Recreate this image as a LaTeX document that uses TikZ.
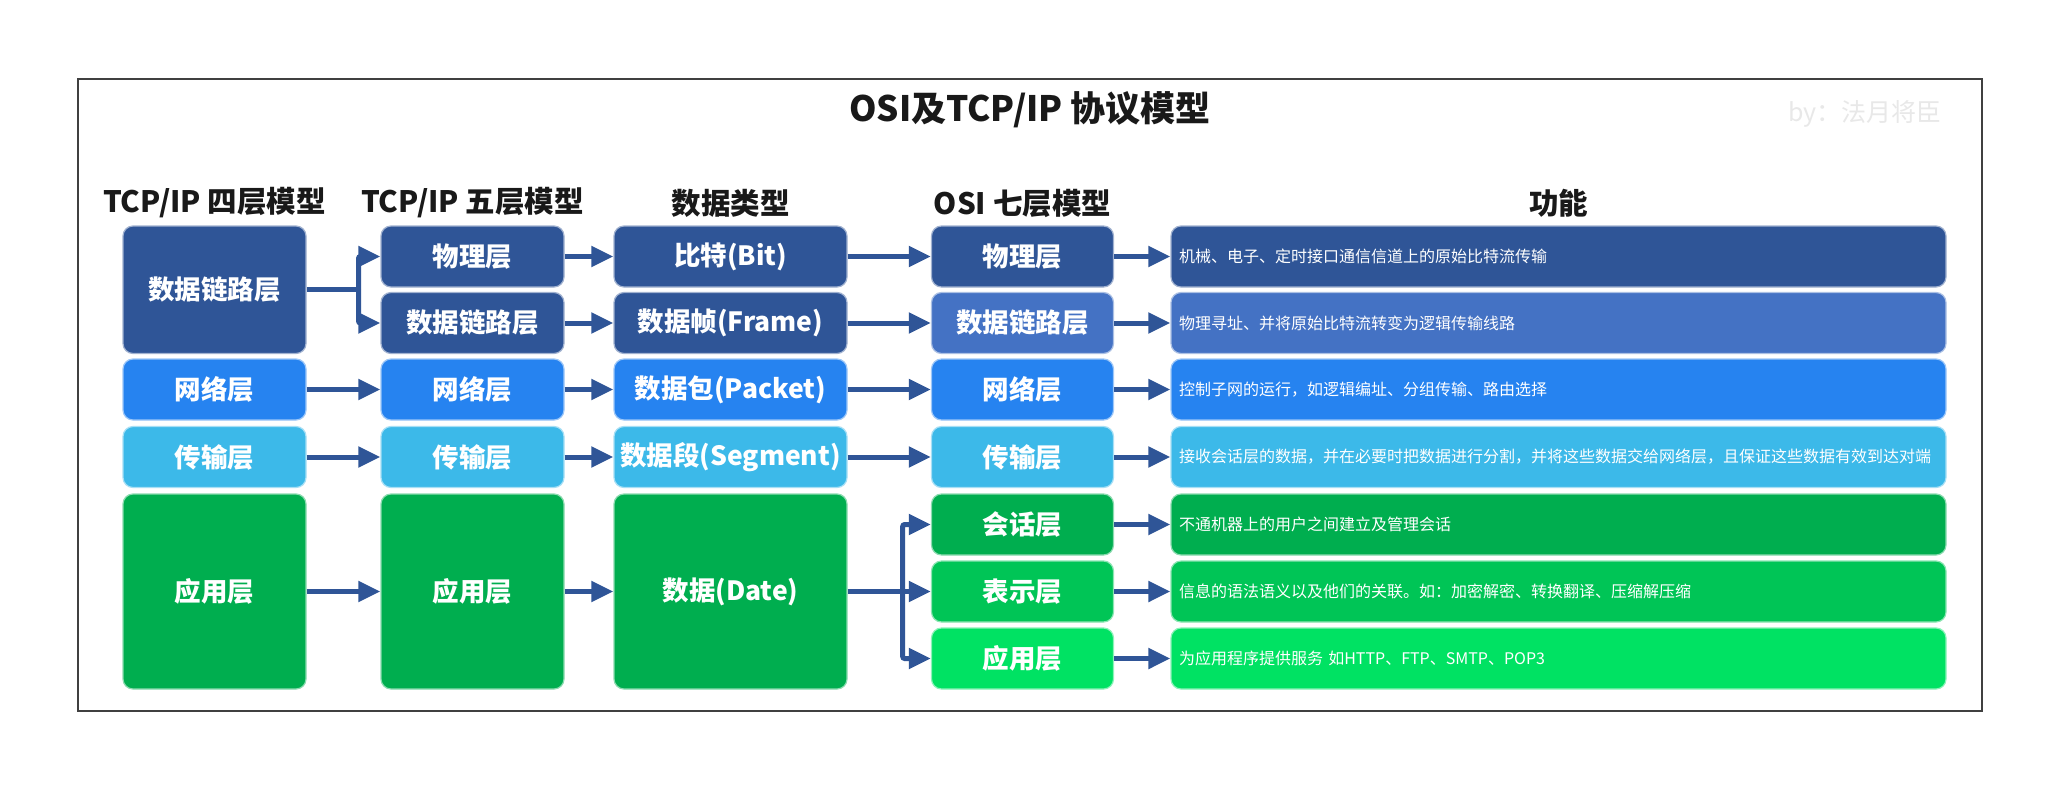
\documentclass[tikz,border=0pt]{standalone}
\usepackage{fontspec}
\setmainfont{Noto Sans CJK SC}
\usetikzlibrary{arrows.meta}
\definecolor{dkblue}{HTML}{2F5597}
\definecolor{medblue}{HTML}{4472C4}
\definecolor{netblue}{HTML}{2683F0}
\definecolor{trblue}{HTML}{3CB9E9}
\definecolor{grnA}{HTML}{00AE4F}
\definecolor{grnB}{HTML}{00C556}
\definecolor{grnC}{HTML}{00E263}
\definecolor{arrblue}{HTML}{2F5597}
\definecolor{bygray}{HTML}{E8E8E8}
\definecolor{framegray}{HTML}{404040}
\tikzset{
  hdr/.style={font=\bfseries\fontsize{29.5}{35}\selectfont, text=black!90, inner sep=0pt},
  ttl/.style={font=\bfseries\fontsize{35}{42}\selectfont, text=black!90, inner sep=0pt},
  byline/.style={font=\fontsize{25}{30}\selectfont, text=bygray, inner sep=0pt},
  lbox/.style={rectangle, rounded corners=10pt, inner sep=0pt, line width=1.2pt,
    text=white, font=\bfseries\fontsize{26.5}{32}\selectfont, align=center},
  fbox/.style={rectangle, rounded corners=10pt, inner ysep=0pt, inner xsep=8pt, line width=1.2pt,
    text=white, font=\fontsize{16}{20}\selectfont, text width=759pt, align=left,
    minimum height=61pt},
  dkb/.style={fill=dkblue, draw=dkblue!45!white},
  medb/.style={fill=medblue, draw=medblue!45!white},
  netb/.style={fill=netblue, draw=netblue!45!white},
  trb/.style={fill=trblue, draw=trblue!45!white},
  gA/.style={fill=grnA, draw=grnA!45!white},
  gB/.style={fill=grnB, draw=grnB!45!white},
  gC/.style={fill=grnC, draw=grnC!45!white},
  wA/.style={minimum width=183pt},
  wC/.style={minimum width=233pt},
  wD/.style={minimum width=182pt},
  hS/.style={minimum height=61pt},
  hL/.style={minimum height=195pt},
  arr/.style={draw=arrblue, line width=5pt, rounded corners=2pt, -{Triangle[length=22pt,width=20pt]}},
  link/.style={draw=arrblue, line width=5pt},
}
\begin{document}
\begin{tikzpicture}[x=1pt,y=-1pt]
\useasboundingbox (0,0) rectangle (2060,790);
\fill[white] (0,0) rectangle (2060,790);
\draw[line width=2pt, draw=framegray] (78,79) rectangle (1982,711);

\node[ttl] (title) at (1030,110) {OSI及TCP/IP 协议模型};
\node[byline] (by) at (1865,114) {by：法月将臣};

\node[hdr] (h1) at (214.5,203) {TCP/IP 四层模型};
\node[hdr] (h2) at (472.5,203) {TCP/IP 五层模型};
\node[hdr] (h3) at (730.5,203) {数据类型};
\node[hdr] (h4) at (1022.5,203) {OSI 七层模型};
\node[hdr] (h5) at (1558.5,203) {功能};

% column 1
\node[lbox,dkb,wA,minimum height=127.5pt] (a1) at (214.5,289.75) {数据链路层};
\node[lbox,netb,wA,hS] (a2) at (214.5,389.5) {网络层};
\node[lbox,trb,wA,hS] (a3) at (214.5,457) {传输层};
\node[lbox,gA,wA,hL] (a4) at (214.5,591.5) {应用层};

% column 2
\node[lbox,dkb,wA,hS] (b1) at (472.5,256.5) {物理层};
\node[lbox,dkb,wA,hS] (b2) at (472.5,323) {数据链路层};
\node[lbox,netb,wA,hS] (b3) at (472.5,389.5) {网络层};
\node[lbox,trb,wA,hS] (b4) at (472.5,457) {传输层};
\node[lbox,gA,wA,hL] (b5) at (472.5,591.5) {应用层};

% column 3
\node[lbox,dkb,wC,hS] (c1) at (730.5,256.5) {比特(Bit)};
\node[lbox,dkb,wC,hS] (c2) at (730.5,323) {数据帧(Frame)};
\node[lbox,netb,wC,hS] (c3) at (730.5,389.5) {数据包(Packet)};
\node[lbox,trb,wC,hS] (c4) at (730.5,457) {数据段(Segment)};
\node[lbox,gA,wC,hL] (c5) at (730.5,591.5) {数据(Date)};

% column 4
\node[lbox,dkb,wD,hS] (d1) at (1022.5,256.5) {物理层};
\node[lbox,medb,wD,hS] (d2) at (1022.5,323) {数据链路层};
\node[lbox,netb,wD,hS] (d3) at (1022.5,389.5) {网络层};
\node[lbox,trb,wD,hS] (d4) at (1022.5,457) {传输层};
\node[lbox,gA,wD,hS] (d5) at (1022.5,524.5) {会话层};
\node[lbox,gB,wD,hS] (d6) at (1022.5,591.5) {表示层};
\node[lbox,gC,wD,hS] (d7) at (1022.5,658.5) {应用层};

% column 5
\node[fbox,dkb] (e1) at (1558.5,256.5) {机械、电子、定时接口通信信道上的原始比特流传输};
\node[fbox,medb] (e2) at (1558.5,323) {物理寻址、并将原始比特流转变为逻辑传输线路};
\node[fbox,netb] (e3) at (1558.5,389.5) {控制子网的运行，如逻辑编址、分组传输、路由选择};
\node[fbox,trb] (e4) at (1558.5,457) {接收会话层的数据，并在必要时把数据进行分割，并将这些数据交给网络层，且保证这些数据有效到达对端};
\node[fbox,gA] (e5) at (1558.5,524.5) {不通机器上的用户之间建立及管理会话};
\node[fbox,gB] (e6) at (1558.5,591.5) {信息的语法语义以及他们的关联。如：加密解密、转换翻译、压缩解压缩};
\node[fbox,gC] (e7) at (1558.5,658.5) {为应用程序提供服务 如HTTP、FTP、SMTP、POP3};

% connectors col1 -> col2
\coordinate (ab) at (358.5,289.75);
\draw[link] (a1.east) -- (ab);
\draw[arr] (ab) |- (b1.west);
\draw[arr] (ab) |- (b2.west);
\draw[arr] (a2.east) -- (b3.west);
\draw[arr] (a3.east) -- (b4.west);
\draw[arr] (a4.east) -- (b5.west);

% col2 -> col3
\draw[arr] (b1.east) -- (c1.west);
\draw[arr] (b2.east) -- (c2.west);
\draw[arr] (b3.east) -- (c3.west);
\draw[arr] (b4.east) -- (c4.west);
\draw[arr] (b5.east) -- (c5.west);

% col3 -> col4
\draw[arr] (c1.east) -- (d1.west);
\draw[arr] (c2.east) -- (d2.west);
\draw[arr] (c3.east) -- (d3.west);
\draw[arr] (c4.east) -- (d4.west);
\coordinate (cd) at (902.7,591.5);
\draw[link] (c5.east) -- (cd);
\draw[arr] (cd) |- (d5.west);
\draw[arr] (cd) -- (d6.west);
\draw[arr] (cd) |- (d7.west);

% col4 -> col5
\draw[arr] (d1.east) -- (e1.west);
\draw[arr] (d2.east) -- (e2.west);
\draw[arr] (d3.east) -- (e3.west);
\draw[arr] (d4.east) -- (e4.west);
\draw[arr] (d5.east) -- (e5.west);
\draw[arr] (d6.east) -- (e6.west);
\draw[arr] (d7.east) -- (e7.west);
\end{tikzpicture}
\end{document}
